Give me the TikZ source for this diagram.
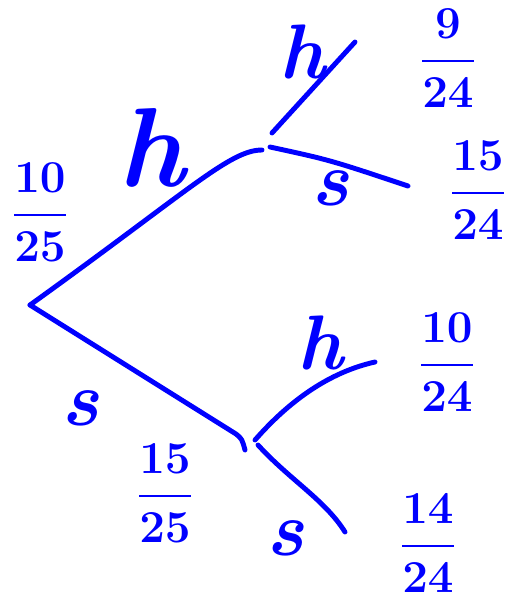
\documentclass[tikz,border=0pt]{standalone}
\usepackage{fix-cm}
\usepackage{amsmath}
\usetikzlibrary{positioning}
\definecolor{pen}{RGB}{0,0,255}
\tikzset{
  branch/.style={draw=pen,line width=2.8pt,line cap=round,line join=round},
  prob/.style={text=pen,inner sep=0pt,font=\fontsize{26}{28}\selectfont\boldmath},
  pick/.style={text=pen,inner sep=0pt,font=\fontsize{44}{46}\selectfont\bfseries\itshape},
  bigpick/.style={pick,font=\fontsize{64}{66}\selectfont\bfseries\itshape},
}

\begin{document}
\begin{tikzpicture}[x=0.02cm,y=-0.02cm]
  \useasboundingbox (0,0) rectangle (522,601);
  % branch points
  \coordinate (root) at (30,305);
  \coordinate (up)   at (262,150);
  \coordinate (dn)   at (245,450);
  \coordinate (hh)   at (355,42);
  \coordinate (hs)   at (408,186);
  \coordinate (sh)   at (375,362);
  \coordinate (ss)   at (345,532);
  % first draw
  \draw[branch] (root) .. controls (190,190) and (230,150) .. (up);
  \draw[branch] (root) -- (236,434) .. controls (242,439) .. (dn);
  % second draw
  \draw[branch] ([shift={(10,-17)}]up) -- (hh);
  \draw[branch] ([shift={(8,-3)}]up) .. controls (330,160) .. (hs);
  \draw[branch] ([shift={(10,-10)}]dn) .. controls (290,400) and (330,372) .. (sh);
  \draw[branch] ([shift={(13,-5)}]dn) .. controls (290,480) and (325,500) .. (ss);
  % labels
  \node[prob] (p1) at (40,212) {$\displaystyle\frac{10}{25}$};
  \node[bigpick] (l1) at (152,148) {h};
  \node[prob] (p2) at (165,493) {$\displaystyle\frac{15}{25}$};
  \node[pick] (l2) at (80,408) {s};
  \node[pick] (l3) at (302,52) {h};
  \node[prob] (p3) at (448,58) {$\displaystyle\frac{9}{24}$};
  \node[pick] (l4) at (330,188) {s};
  \node[prob] (p4) at (478,190) {$\displaystyle\frac{15}{24}$};
  \node[pick] (l5) at (320,343) {h};
  \node[prob] (p5) at (447,362) {$\displaystyle\frac{10}{24}$};
  \node[pick] (l6) at (285,538) {s};
  \node[prob] (p6) at (428,543) {$\displaystyle\frac{14}{24}$};
\end{tikzpicture}
\end{document}
